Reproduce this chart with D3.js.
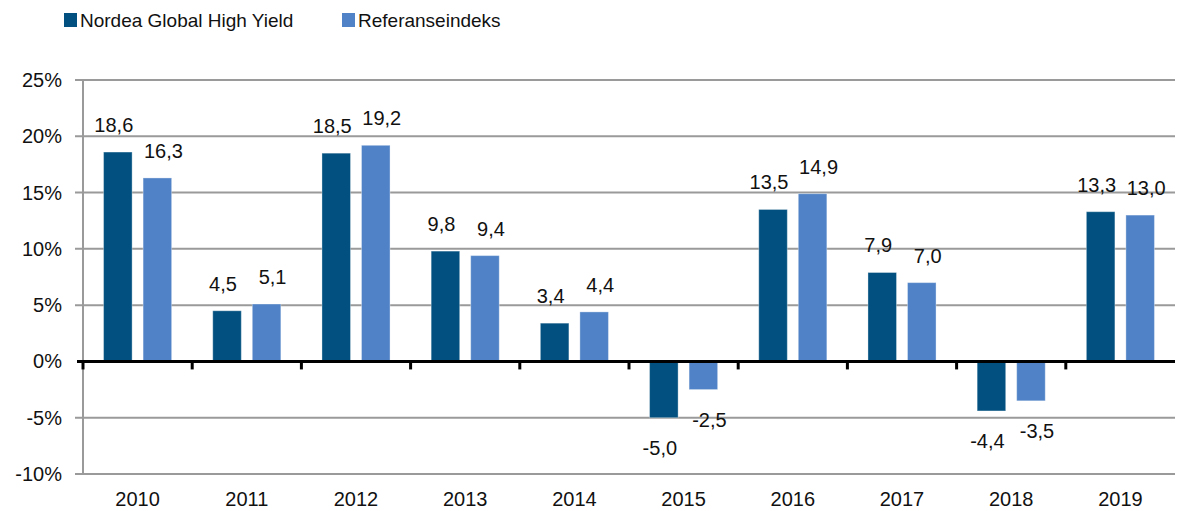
<!DOCTYPE html>
<html>
<head>
<meta charset="utf-8">
<script src="https://cdn.jsdelivr.net/npm/d3@7"></script>
<style>
  html, body { margin: 0; padding: 0; background: #fff; }
  svg { display: block; font-family: "Liberation Sans", Arial, sans-serif; }
</style>
</head>
<body>
<svg id="chart" width="1177" height="511"></svg>
<script>
const years = ["2010","2011","2012","2013","2014","2015","2016","2017","2018","2019"];
const seriesNames = ["Nordea Global High Yield", "Referanseindeks"];
const nordea = [18.6, 4.5, 18.5, 9.8, 3.4, -5.0, 13.5, 7.9, -4.4, 13.3];
const referanse = [16.3, 5.1, 19.2, 9.4, 4.4, -2.5, 14.9, 7.0, -3.5, 13.0];
const yTicks = [-10, -5, 0, 5, 10, 15, 20, 25];
const colors = ["#01507f", "#4f82c6"];

const svg = d3.select("#chart");
const plotLeft = 83, plotRight = 1175, plotTop = 80, plotBottom = 474;

const x0 = d3.scaleBand().domain(years).range([plotLeft, plotRight]).padding(0);
const x1 = d3.scaleBand().domain(seriesNames).range([0, x0.bandwidth()])
  .paddingInner(0.278).paddingOuter(0.52);
const y = d3.scaleLinear().domain([-10, 25]).range([plotBottom, plotTop]);

// gridlines
svg.append("g").selectAll("line").data(yTicks.filter(t => t !== 0)).join("line")
  .attr("x1", plotLeft - 8).attr("x2", plotRight)
  .attr("y1", d => y(d)).attr("y2", d => y(d))
  .attr("stroke", "#9a9a9a").attr("stroke-width", 2);

// y axis line
svg.append("line").attr("x1", plotLeft).attr("x2", plotLeft)
  .attr("y1", y(25)).attr("y2", y(-10))
  .attr("stroke", "#9a9a9a").attr("stroke-width", 2);

// y labels
svg.append("g").selectAll("text").data(yTicks).join("text")
  .attr("x", 62).attr("y", d => y(d) + 7)
  .attr("text-anchor", "end").attr("font-size", 20).attr("fill", "#111")
  .text(d => d + "%");

// bars
const data = years.map((yr, i) => ({ year: yr, vals: [nordea[i], referanse[i]] }));
const groups = svg.append("g").selectAll("g").data(data).join("g")
  .attr("transform", d => `translate(${x0(d.year)},0)`);

groups.selectAll("rect").data(d => d.vals.map((v, k) => ({ k, v }))).join("rect")
  .attr("x", d => x1(seriesNames[d.k]))
  .attr("width", x1.bandwidth())
  .attr("y", d => y(Math.max(0, d.v)))
  .attr("height", d => Math.abs(y(d.v) - y(0)))
  .attr("fill", d => colors[d.k])
  .attr("stroke", "#ffffff").attr("stroke-opacity", 0.35).attr("stroke-width", 1);

// value labels
const fmt = v => v.toFixed(1).replace(".", ",");
groups.selectAll("text").data(d => d.vals.map((v, k) => ({ k, v }))).join("text")
  .attr("x", d => x1(seriesNames[d.k]) + x1.bandwidth() / 2 + (d.k === 0 ? -4 : 6))
  .attr("y", d => d.v >= 0 ? y(d.v) - 20 : y(d.v) + 37)
  .attr("text-anchor", "middle").attr("font-size", 20).attr("fill", "#111")
  .text(d => fmt(d.v));

// zero line
svg.append("line").attr("x1", plotLeft - 6).attr("x2", plotRight)
  .attr("y1", y(0)).attr("y2", y(0))
  .attr("stroke", "#000").attr("stroke-width", 3);

// category ticks
svg.append("g").selectAll("line").data(years).join("line")
  .attr("x1", d => x0(d)).attr("x2", d => x0(d))
  .attr("y1", y(0)).attr("y2", y(0) + 8)
  .attr("stroke", "#000").attr("stroke-width", 3);

// x labels
svg.append("g").selectAll("text").data(years).join("text")
  .attr("x", d => x0(d) + x0.bandwidth() / 2).attr("y", 506)
  .attr("text-anchor", "middle").attr("font-size", 20).attr("fill", "#111")
  .text(d => d);

// legend
const legendX = [64, 342];
const lg = svg.append("g").selectAll("g").data(seriesNames).join("g")
  .attr("transform", (d, i) => `translate(${legendX[i]},0)`);
lg.append("rect").attr("x", 0).attr("y", 13).attr("width", 13).attr("height", 14)
  .attr("fill", (d, i) => colors[i]);
lg.append("text").attr("x", 16).attr("y", 27).attr("font-size", 19).attr("fill", "#111")
  .text(d => d);
</script>
</body>
</html>
